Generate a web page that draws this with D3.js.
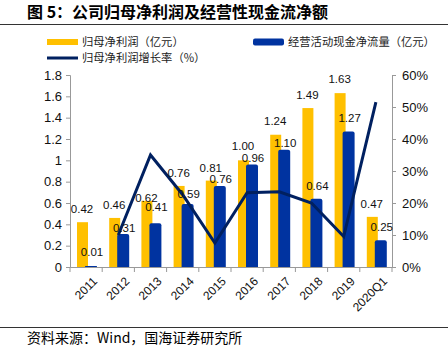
<!DOCTYPE html>
<html>
<head>
<meta charset="utf-8">
<script src="https://cdn.jsdelivr.net/npm/d3@7"></script>
<style>
body { margin: 0; background: #fff; }
text { font-family: "Liberation Sans", Arial, "Noto Sans CJK SC", sans-serif; }
</style>
</head>
<body>
<div id="chart"></div>
<script>
// data
var years = ["2011", "2012", "2013", "2014", "2015", "2016", "2017", "2018", "2019", "2020Q1"];
var netProfit = [0.42, 0.46, 0.62, 0.76, 0.81, 1.00, 1.24, 1.49, 1.63, 0.47];
var cashFlow = [0.01, 0.31, 0.41, 0.59, 0.76, 0.96, 1.10, 0.64, 1.27, 0.25];
var growthYears = ["2012", "2013", "2014", "2015", "2016", "2017", "2018", "2019", "2020Q1"];
var growth = [10, 35, 22.6, 7.5, 23.2, 23.5, 20, 9.5, 51.5];
var leftTicks = [0, 0.2, 0.4, 0.6, 0.8, 1, 1.2, 1.4, 1.6, 1.8];
var rightTicks = [0, 10, 20, 30, 40, 50, 60];

// label gaps above bar tops (labels were nudged by hand in the original)
var profitGap = [9.5, 9, -1, 9, 9, 10, 9.5, 9.5, 10, 8.5];
var cashGap = [10, 2, 12.5, 6, 3, 2.5, 3, 8.5, 10, 9];

var W = 448, H = 351;
var cjk = "'Noto Sans CJK SC', sans-serif";

var svg = d3.select("#chart").append("svg")
    .attr("width", W)
    .attr("height", H);

// title + rules
svg.append("text")
    .attr("x", 27).attr("y", 18)
    .style("font-family", cjk)
    .style("font-size", "16px")
    .style("font-weight", "bold")
    .text("图 5：公司归母净利润及经营性现金流净额");
svg.append("line")
    .attr("x1", 0).attr("x2", W).attr("y1", 24.5).attr("y2", 24.5)
    .attr("stroke", "#333").attr("stroke-width", 1);
svg.append("line")
    .attr("x1", 0).attr("x2", W).attr("y1", 327.5).attr("y2", 327.5)
    .attr("stroke", "#333").attr("stroke-width", 1);
svg.append("text")
    .attr("x", 27).attr("y", 343)
    .style("font-family", cjk)
    .style("font-size", "14px")
    .text("资料来源：Wind，国海证券研究所");

// legend
var legend = [
    {x: 47, y: 42, label: "归母净利润（亿元）", color: "#FFC000", h: 6},
    {x: 253, y: 42, label: "经营活动现金净流量（亿元）", color: "#0033A0", h: 7},
    {x: 47, y: 58, label: "归母净利润增长率（%）", color: "#002060", h: 3}
];
legend.forEach(function(d) {
    svg.append("rect")
        .attr("x", d.x).attr("y", d.y - d.h / 2)
        .attr("width", 31).attr("height", d.h)
        .attr("rx", d.h > 6 ? 2 : 0)
        .attr("fill", d.color);
    svg.append("text")
        .attr("x", d.x + 35).attr("y", d.y + 4)
        .style("font-family", cjk)
        .style("font-size", "11.3px")
        .attr("fill", "#222")
        .text(d.label);
});

// scales
var x = d3.scaleBand().domain(years).range([70, 392]);
var y = d3.scaleLinear().domain([0, 1.8]).range([267, 75]);
var y2 = d3.scaleLinear().domain([0, 60]).range([267, 75]);

// bars
svg.selectAll(".bar-p")
    .data(netProfit)
    .enter().append("rect")
    .attr("class", "bar-p")
    .attr("x", function(d, i) { return x(years[i]) + 7; })
    .attr("y", function(d) { return y(d); })
    .attr("width", 11)
    .attr("height", function(d) { return y(0) - y(d); })
    .attr("fill", "#FFC000");

svg.selectAll(".bar-c")
    .data(cashFlow)
    .enter().append("path")
    .attr("class", "bar-c")
    .attr("d", function(d, i) {
        var x0 = x(years[i]) + 15, w = 12, t = y(d), b = y(0), r = Math.min(2, (b - t) / 2);
        return "M" + x0 + "," + b + "V" + (t + r) + "Q" + x0 + "," + t + " " + (x0 + r) + "," + t +
            "H" + (x0 + w - r) + "Q" + (x0 + w) + "," + t + " " + (x0 + w) + "," + (t + r) + "V" + b + "Z";
    })
    .attr("fill", "#0033A0");

// axes
var axisColor = "#999";
var gl = svg.append("g").attr("transform", "translate(70,0)")
    .call(d3.axisLeft(y).tickValues(leftTicks).tickSize(4).tickFormat(function(d) { return d3.format("")(+d.toFixed(1)); }));
var gr = svg.append("g").attr("transform", "translate(392,0)")
    .call(d3.axisRight(y2).tickValues(rightTicks).tickSize(4).tickFormat(function(d) { return d + "%"; }));
var gx = svg.append("g").attr("transform", "translate(0,267)")
    .call(d3.axisBottom(x).tickSize(0).tickFormat(""));
[gl, gr, gx].forEach(function(g) {
    g.select(".domain").attr("stroke", axisColor);
    g.selectAll(".tick line").attr("stroke", axisColor);
    g.selectAll(".tick text").style("font-size", "13px").attr("fill", "#111");
});
gl.selectAll(".tick text").attr("x", -8);
gr.selectAll(".tick text").attr("x", 10);

// x ticks at band boundaries
svg.selectAll(".xtick")
    .data(years.concat(["end"]))
    .enter().append("line")
    .attr("x1", function(d, i) { return x.range()[0] + i * x.bandwidth(); })
    .attr("x2", function(d, i) { return x.range()[0] + i * x.bandwidth(); })
    .attr("y1", 267).attr("y2", 272)
    .attr("stroke", axisColor);

// x labels rotated
svg.selectAll(".xlab")
    .data(years)
    .enter().append("text")
    .attr("transform", function(d) {
        return "translate(" + (x(d) + x.bandwidth() / 2 + 6) + ",276) rotate(-45)";
    })
    .attr("text-anchor", "end")
    .attr("dy", "0.7em")
    .style("font-size", "12px")
    .attr("fill", "#111")
    .text(function(d) { return d; });

// growth line
var line = d3.line()
    .x(function(d, i) { return x(growthYears[i]) + x.bandwidth() / 2; })
    .y(function(d) { return y2(d); });
svg.append("path")
    .datum(growth)
    .attr("d", line)
    .attr("fill", "none")
    .attr("stroke", "#002060")
    .attr("stroke-width", 3)
    .attr("stroke-linejoin", "miter");

// value labels
svg.selectAll(".lab-p")
    .data(netProfit)
    .enter().append("text")
    .attr("x", function(d, i) { return x(years[i]) + 12; })
    .attr("y", function(d, i) { return y(d) - profitGap[i]; })
    .attr("text-anchor", "middle")
    .style("font-size", "11.5px")
    .attr("fill", "#111")
    .text(function(d) { return d.toFixed(2); });

svg.selectAll(".lab-c")
    .data(cashFlow)
    .enter().append("text")
    .attr("x", function(d, i) { return x(years[i]) + 22; })
    .attr("y", function(d, i) { return y(d) - cashGap[i]; })
    .attr("text-anchor", "middle")
    .style("font-size", "11.5px")
    .attr("fill", "#111")
    .text(function(d) { return d.toFixed(2); });
</script>
</body>
</html>
